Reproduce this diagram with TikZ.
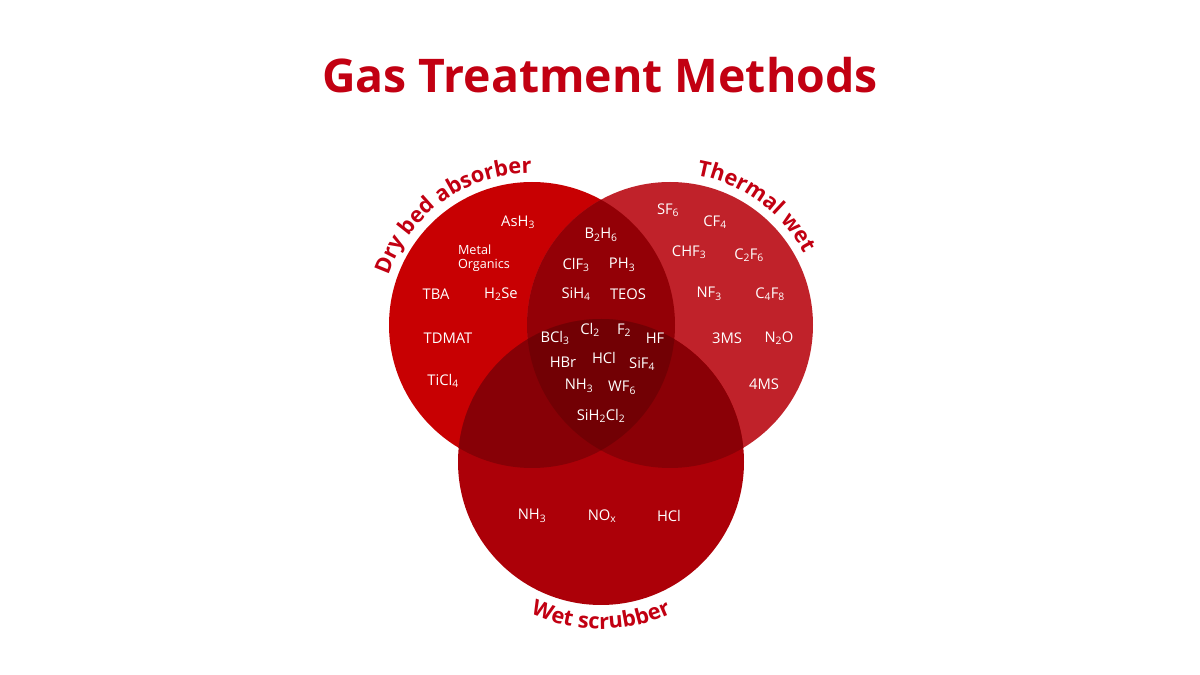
\documentclass[tikz,border=0pt]{standalone}
\usepackage{fontspec}
\setmainfont{Open Sans}
\usetikzlibrary{decorations.text}
\definecolor{dryred}{HTML}{C80002}
\definecolor{thermred}{HTML}{C0222A}
\definecolor{wetred}{HTML}{AC0008}
\definecolor{twored}{HTML}{930006}
\definecolor{allred}{HTML}{720004}
\definecolor{titlered}{HTML}{C20012}
\newcommand{\sub}[1]{\textsubscript{#1}}
\tikzset{
  gas/.style={text=white, font=\fontsize{21}{24}\selectfont, inner sep=0pt},
  ring/.style={font=\fontsize{31}{34}\selectfont\bfseries, text=titlered}
}
\begin{document}
\begin{tikzpicture}[x=0.05cm,y=0.05cm]
\useasboundingbox (0,0) rectangle (1200,675);
\fill[white] (0,0) rectangle (1200,675);

% Kreise
\coordinate (D) at (532,350);
\coordinate (T) at (670,350);
\coordinate (W) at (601,213);
\def\r{7.15cm}
\fill[dryred] (D) circle[radius=\r];
\fill[thermred] (T) circle[radius=\r];
\fill[wetred] (W) circle[radius=\r];
\begin{scope}
  \clip (D) circle[radius=\r];
  \fill[twored] (T) circle[radius=\r];
  \fill[twored!92!black] (W) circle[radius=\r];
\end{scope}
\begin{scope}
  \clip (T) circle[radius=\r];
  \fill[twored!94!black] (W) circle[radius=\r];
\end{scope}
\begin{scope}
  \clip (D) circle[radius=\r];
  \clip (T) circle[radius=\r];
  \fill[allred] (W) circle[radius=\r];
\end{scope}

% Titel
\node (title) at (600,600) {\fontsize{66}{70}\selectfont\bfseries\color{titlered}Gas Treatment Methods};

% Beschriftungen an den Kreisen
\path[decorate, decoration={text along path, text align=center,
  text={|\fontsize{31}{34}\selectfont\bfseries\color{titlered}|Dry bed absorber}}]
  (D) ++(163:7.6cm) arc[start angle=163, end angle=88, radius=7.6cm];
\path[decorate, decoration={text along path, text align=center,
  text={|\fontsize{31}{34}\selectfont\bfseries\color{titlered}|Thermal wet}}]
  (T) ++(88:7.6cm) arc[start angle=88, end angle=20, radius=7.6cm];
\path[decorate, decoration={text along path, text align=center,
  text={|\fontsize{31}{34}\selectfont\bfseries\color{titlered}|Wet scrubber}}]
  (W) ++(238:8.35cm) arc[start angle=238, end angle=302, radius=8.35cm];

% Gase
\foreach \x/\y/\n/\t in {
  518/222/ash/{AsH\sub3}, 436/294/tba/{TBA}, 501/294/hse/{H\sub2Se},
  448/338/tdmat/{TDMAT}, 443/381/ticl/{TiCl\sub4},
  601/235/bh/{B\sub2H\sub6}, 576/265/clf/{ClF\sub3}, 622/265/ph/{PH\sub3},
  576/294/sih/{SiH\sub4}, 628/294/teos/{TEOS},
  555/338/bcl/{BCl\sub3}, 590/330/cl/{Cl\sub2}, 624/330/f/{F\sub2},
  655/338/hf/{HF}, 563/362/hbr/{HBr}, 604/358/hcla/{HCl},
  642/364/sif/{SiF\sub4}, 579/386/nha/{NH\sub3}, 622/388/wf/{WF\sub6},
  601/416/sihcl/{SiH\sub2Cl\sub2},
  668/210/sf/{SF\sub6}, 715/222/cf/{CF\sub4}, 689/252/chf/{CHF\sub3},
  749/255/cfs/{C\sub2F\sub6}, 709/294/nf/{NF\sub3}, 770/294/cfe/{C\sub4F\sub8},
  727/338/ms/{3MS}, 779/338/no/{N\sub2O}, 764/384/msf/{4MS},
  532/516/nhb/{NH\sub3}, 602/516/nox/{NO\sub x}, 669/516/hclb/{HCl}}
  \node[gas] (\n) at (\x,675-\y) {\t};
\node[gas, align=left, font=\fontsize{18}{20}\selectfont] (metal) at (484,417) {Metal\\Organics};

\end{tikzpicture}
\end{document}
